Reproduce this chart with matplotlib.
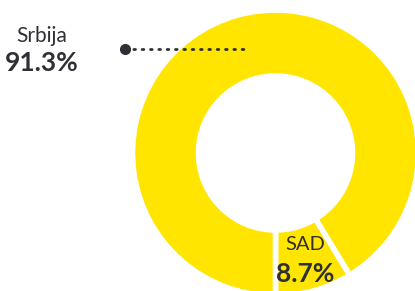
# Donut chart: Srbija vs SAD share
import matplotlib.pyplot as plt

plt.rcParams['font.family'] = ['Lato', 'DejaVu Sans']

labels = ["SAD", "Srbija"]
shares = [8.7, 91.3]
yellow = '#FFE500'
dark = '#2E3035'

W, H = 415, 291
fig = plt.figure(figsize=(W / 100, H / 100), dpi=100)
ax = fig.add_axes([0, 0, 1, 1])

# wedges start at the bottom and run counter-clockwise
ax.pie(shares, startangle=-90, counterclock=True, colors=[yellow, yellow],
       center=(275.5, H - 153), radius=143,
       wedgeprops=dict(width=66, edgecolor='white', linewidth=4))

ax.set_xlim(0, W)
ax.set_ylim(0, H)
ax.set_aspect('equal')
ax.axis('off')

# Srbija label with leader line
ax.text(42, H - 42, labels[1], ha='center', va='baseline', fontsize=15, color=dark)
ax.text(42, H - 71, f"{shares[1]}%", ha='center', va='baseline', fontsize=19,
        fontweight='bold', color=dark)
ax.plot([125, 247], [H - 49, H - 49], color=dark, linestyle=(0, (0.6, 2.4)),
        linewidth=2, dash_capstyle='round')
ax.plot([125], [H - 49], 'o', color=dark, markersize=7)

# SAD label inside its wedge
ax.text(305, H - 250, labels[0], ha='center', va='baseline', fontsize=14.5, color=dark)
ax.text(305, H - 282, f"{shares[0]}%", ha='center', va='baseline', fontsize=19,
        fontweight='bold', color=dark)

fig.savefig('out.png', dpi=100)
